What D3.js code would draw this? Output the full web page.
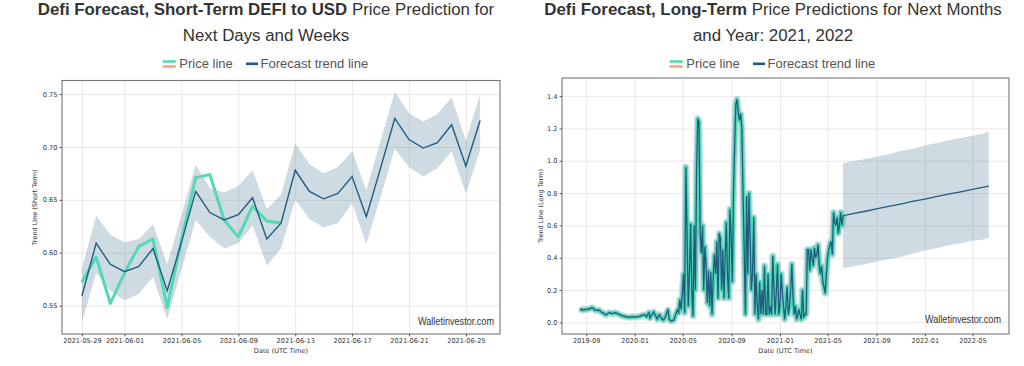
<!DOCTYPE html>
<html><head><meta charset="utf-8">
<script src="https://cdn.jsdelivr.net/npm/d3@7"></script>
<style>
body{margin:0;background:#fff;}
svg{display:block;}
</style></head><body>
<svg id="c" width="1024" height="366"></svg>
<script>
// ---------- Short-term chart data ----------
const stDates = ["2021-05-29","2021-05-30","2021-05-31","2021-06-01","2021-06-02","2021-06-03","2021-06-04","2021-06-05","2021-06-06","2021-06-07","2021-06-08","2021-06-09","2021-06-10","2021-06-11","2021-06-12","2021-06-13","2021-06-14","2021-06-15","2021-06-16","2021-06-17","2021-06-18","2021-06-19","2021-06-20","2021-06-21","2021-06-22","2021-06-23","2021-06-24","2021-06-25","2021-06-26"];
const stTrend = [0.559,0.609,0.589,0.582,0.587,0.604,0.564,0.610,0.658,0.638,0.631,0.636,0.652,0.613,0.628,0.678,0.658,0.651,0.656,0.672,0.634,0.680,0.727,0.707,0.699,0.704,0.721,0.682,0.725];
const stUpper = [0.585,0.635,0.617,0.610,0.613,0.627,0.589,0.636,0.683,0.661,0.657,0.663,0.678,0.641,0.655,0.703,0.684,0.675,0.681,0.696,0.659,0.706,0.752,0.732,0.724,0.731,0.747,0.706,0.750];
const stLower = [0.534,0.581,0.564,0.555,0.561,0.577,0.537,0.584,0.631,0.615,0.604,0.609,0.626,0.588,0.604,0.650,0.632,0.624,0.628,0.647,0.608,0.653,0.698,0.681,0.672,0.680,0.696,0.656,0.697];
const stPrice = [0.572,0.596,0.552,0.581,0.606,0.613,0.548,0.612,0.671,0.674,0.631,0.615,0.644,0.630,0.628];
const stXTicks = ["2021-05-29","2021-06-01","2021-06-05","2021-06-09","2021-06-13","2021-06-17","2021-06-21","2021-06-25"];
const stYTicks = [0.55,0.60,0.65,0.70,0.75];
const stXDomain = ["2021-05-27T14:24:00Z","2021-06-27T09:36:00Z"];
const stYDomain = [0.5231,0.7629];

// ---------- Long-term chart data ----------
const ltStart = "2019-08-16";   // first price sample
const ltStepDays = 3;           // one sample every 3 days
const ltPrice = [
0.085,0.080,0.076,0.078,0.080,0.079,0.080,0.082,0.084,0.086,0.090,0.088,0.080,0.076,0.074,0.076,0.075,0.070,0.064,0.060,
0.055,0.050,0.047,0.052,0.058,0.060,0.057,0.054,0.055,0.058,0.060,0.056,0.052,0.050,0.046,0.042,0.040,0.038,0.036,0.035,
0.033,0.032,0.031,0.033,0.035,0.034,0.033,0.033,0.035,0.036,0.037,0.040,0.043,0.045,0.047,0.044,0.035,0.050,0.060,0.027,
0.045,0.050,0.064,0.050,0.035,0.020,0.040,0.047,0.030,0.020,0.015,0.023,0.040,0.060,0.076,0.020,0.012,0.010,0.012,0.015,
0.040,0.060,0.076,0.060,
0.14,0.08,0.17,0.30,0.06,0.96,0.56,0.10,0.30,0.61,0.20,0.04,0.60,0.20,0.93,1.26,1.24,0.55,0.43,0.60,
0.20,0.47,0.35,0.12,0.32,0.10,0.31,0.05,0.28,0.42,0.30,0.50,0.15,0.55,0.52,0.20,0.45,0.15,0.40,0.62,
0.28,0.15,0.70,0.55,0.25,0.80,1.10,1.35,1.38,1.30,1.25,1.29,1.20,0.80,0.45,0.05,0.78,0.30,0.80,0.50,
0.20,0.30,0.65,0.05,0.30,0.10,0.02,0.25,0.05,0.20,0.05,0.35,0.05,0.05,0.30,0.05,0.10,0.05,0.41,0.20,
0.05,0.20,0.36,0.05,0.10,0.30,0.18,0.10,0.02,0.10,0.22,0.05,0.10,0.20,0.36,0.15,0.05,0.10,0.02,0.05,
0.08,0.04,0.02,0.20,0.03,0.05,0.05,0.45,0.45,0.32,0.45,0.40,0.35,0.46,0.40,0.42,0.48,0.35,0.30,0.35,
0.25,0.22,0.18,0.30,0.40,0.45,0.48,0.50,0.42,0.68,0.62,0.60,0.65,0.55,0.60,0.68,0.60,0.66];
const fcDates = ["2021-06-09","2021-07-01","2021-08-01","2021-09-01","2021-10-01","2021-11-01","2021-12-01","2022-01-01","2022-02-01","2022-03-01","2022-04-01","2022-05-01","2022-06-01","2022-06-11"];
const fcTrend = [0.660,0.671,0.686,0.702,0.717,0.732,0.748,0.763,0.779,0.793,0.808,0.823,0.839,0.843];
const fcUpper = [0.985,0.995,1.010,1.025,1.040,1.060,1.075,1.095,1.110,1.125,1.140,1.155,1.170,1.183];
const fcLower = [0.335,0.345,0.360,0.375,0.390,0.405,0.425,0.445,0.460,0.475,0.490,0.505,0.515,0.524];
const ltXTicks = ["2019-09-01","2020-01-01","2020-05-01","2020-09-01","2021-01-01","2021-05-01","2021-09-01","2022-01-01","2022-05-01"];
const ltYTicks = [0.0,0.2,0.4,0.6,0.8,1.0,1.2,1.4];
const ltXDomain = ["2019-07-02","2022-08-01"];
const ltYDomain = [-0.072,1.512];

// ---------- styles ----------
const TEAL = "#55d8b6", DARK = "#1f5c80", SALMON = "#f4a58a", BAND = "#1f5c80";
const svg = d3.select("#c");
const P = d3.isoParse;

function panel(o) {
  const g = svg.append("g");
  const x = d3.scaleUtc().domain(o.xDomain.map(P)).range([o.left, o.right]);
  const y = d3.scaleLinear().domain(o.yDomain).range([o.bottom, o.top]);
  const H = o.bottom - o.top, W = o.right - o.left;

  // grid
  g.append("g").attr("transform", `translate(0,${o.bottom})`)
    .call(d3.axisBottom(x).tickValues(o.xTicks.map(P)).tickSize(-H).tickFormat(""))
    .call(a => { a.select(".domain").remove(); a.selectAll("line").attr("stroke", "#e9e9e9"); });
  g.append("g").attr("transform", `translate(${o.left},0)`)
    .call(d3.axisLeft(y).tickValues(o.yTicks).tickSize(-W).tickFormat(""))
    .call(a => { a.select(".domain").remove(); a.selectAll("line").attr("stroke", "#e9e9e9"); });

  o.draw(g, x, y);

  // frame
  g.append("rect").attr("x", o.left).attr("y", o.top).attr("width", W).attr("height", H)
    .attr("fill", "none").attr("stroke", "#777").attr("stroke-width", 1.1);

  // axes ticks + labels
  const tickFont = a => a.selectAll("text").attr("font-family", "DejaVu Sans").attr("font-size", "6.6px").attr("fill", "#333");
  g.append("g").attr("transform", `translate(0,${o.bottom})`)
    .call(d3.axisBottom(x).tickValues(o.xTicks.map(P)).tickSize(2.4).tickPadding(2.2).tickFormat(d3.utcFormat(o.xFmt)))
    .call(a => { a.select(".domain").remove(); a.selectAll("line").attr("stroke", "#555"); })
    .call(tickFont);
  g.append("g").attr("transform", `translate(${o.left},0)`)
    .call(d3.axisLeft(y).tickValues(o.yTicks).tickSize(2.4).tickPadding(2.2).tickFormat(d3.format(o.yFmt)))
    .call(a => { a.select(".domain").remove(); a.selectAll("line").attr("stroke", "#555"); })
    .call(tickFont);

  // axis titles
  g.append("text").attr("x", (o.left + o.right) / 2).attr("y", o.bottom + 18.5).attr("text-anchor", "middle")
    .attr("font-family", "DejaVu Sans").attr("font-size", "6.6px").attr("fill", "#333").text("Date (UTC Time)");
  g.append("text").attr("transform", `translate(${o.ylabX},${(o.top + o.bottom) / 2}) rotate(-90)`).attr("text-anchor", "middle")
    .attr("font-family", "DejaVu Sans").attr("font-size", "6.5px").attr("fill", "#333").text(o.ylabel);

  // watermark
  g.append("text").attr("x", o.wmX).attr("y", o.wmY).attr("text-anchor", "end")
    .attr("font-family", "Liberation Sans, Arial, sans-serif").attr("font-size", "11px").attr("fill", "#333")
    .attr("textLength", 76).attr("lengthAdjust", "spacingAndGlyphs").text("Walletinvestor.com");

  // title
  const t = svg.append("text").attr("text-anchor", "middle").attr("font-family", "Liberation Sans, Arial, sans-serif")
    .attr("font-size", "16.85px").attr("fill", "#333");
  const l1 = t.append("tspan").attr("x", o.tc).attr("y", 15);
  l1.append("tspan").attr("font-weight", 700).text(o.titleBold);
  l1.append("tspan").text(o.titleRest);
  t.append("tspan").attr("x", o.tc).attr("y", 40.5).text(o.title2);

  // legend
  const lg = svg.append("g").attr("font-family", "Liberation Sans, Arial, sans-serif").attr("font-size", "13px").attr("fill", "#555");
  const c = o.tc;
  lg.append("line").attr("x1", c - 103.3).attr("x2", c - 90.3).attr("y1", 61.5).attr("y2", 61.5).attr("stroke", TEAL).attr("stroke-width", 2.6);
  lg.append("line").attr("x1", c - 103.3).attr("x2", c - 90.3).attr("y1", 66.5).attr("y2", 66.5).attr("stroke", SALMON).attr("stroke-width", 2.6);
  lg.append("text").attr("x", c - 86.7).attr("y", 68.3).text("Price line");
  lg.append("line").attr("x1", c - 20).attr("x2", c - 8).attr("y1", 63.8).attr("y2", 63.8).attr("stroke", DARK).attr("stroke-width", 2.6);
  lg.append("text").attr("x", c - 5.5).attr("y", 68.3).text("Forecast trend line");
}

// ---------- left: short-term ----------
panel({
  left: 62, right: 500, top: 80.5, bottom: 334,
  xDomain: stXDomain, yDomain: stYDomain, xTicks: stXTicks, yTicks: stYTicks,
  xFmt: "%Y-%m-%d", yFmt: ".2f", ylabel: "Trend Line (Short Term)", ylabX: 37,
  wmX: 494, wmY: 325, tc: 266,
  titleBold: "Defi Forecast, Short-Term DEFI to USD ", titleRest: "Price Prediction for", title2: "Next Days and Weeks",
  draw: (g, x, y) => {
    const d = stDates.map(P);
    g.append("path").datum(d3.range(stDates.length))
      .attr("d", d3.area().x(i => x(d[i])).y0(i => y(stLower[i])).y1(i => y(stUpper[i])))
      .attr("fill", BAND).attr("fill-opacity", 0.22);
    g.append("path").datum(d3.range(stPrice.length))
      .attr("d", d3.line().x(i => x(d[i])).y(i => y(stPrice[i])))
      .attr("fill", "none").attr("stroke", TEAL).attr("stroke-width", 3).attr("stroke-linejoin", "round");
    g.append("path").datum(d3.range(stTrend.length))
      .attr("d", d3.line().x(i => x(d[i])).y(i => y(stTrend[i])))
      .attr("fill", "none").attr("stroke", DARK).attr("stroke-width", 1.4);
  }
});

// ---------- right: long-term ----------
panel({
  left: 562, right: 1009, top: 78, bottom: 334,
  xDomain: ltXDomain, yDomain: ltYDomain, xTicks: ltXTicks, yTicks: ltYTicks,
  xFmt: "%Y-%m", yFmt: ".1f", ylabel: "Trend Line (Long Term)", ylabX: 543,
  wmX: 1001, wmY: 323.3, tc: 773,
  titleBold: "Defi Forecast, Long-Term ", titleRest: "Price Predictions for Next Months", title2: "and Year: 2021, 2022",
  draw: (g, x, y) => {
    const t0 = P(ltStart);
    const dt = ltPrice.map((v, i) => d3.utcDay.offset(t0, i * ltStepDays));
    const fd = fcDates.map(P);
    g.append("path").datum(d3.range(fcDates.length))
      .attr("d", d3.area().x(i => x(fd[i])).y0(i => y(fcLower[i])).y1(i => y(fcUpper[i])))
      .attr("fill", BAND).attr("fill-opacity", 0.22);
    const line = d3.line().x((v, i) => x(dt[i])).y(v => y(v));
    g.append("path").datum(ltPrice).attr("d", line)
      .attr("fill", "none").attr("stroke", BAND).attr("stroke-opacity", 0.22).attr("stroke-width", 7).attr("stroke-linejoin", "round");
    g.append("path").datum(ltPrice).attr("d", line)
      .attr("fill", "none").attr("stroke", TEAL).attr("stroke-width", 4.3).attr("stroke-linejoin", "round");
    g.append("path").datum(ltPrice).attr("d", line)
      .attr("fill", "none").attr("stroke", DARK).attr("stroke-width", 1.3);
    g.append("path").datum(d3.range(fcDates.length))
      .attr("d", d3.line().x(i => x(fd[i])).y(i => y(fcTrend[i])))
      .attr("fill", "none").attr("stroke", DARK).attr("stroke-width", 1.3);
  }
});
</script>
</body></html>
